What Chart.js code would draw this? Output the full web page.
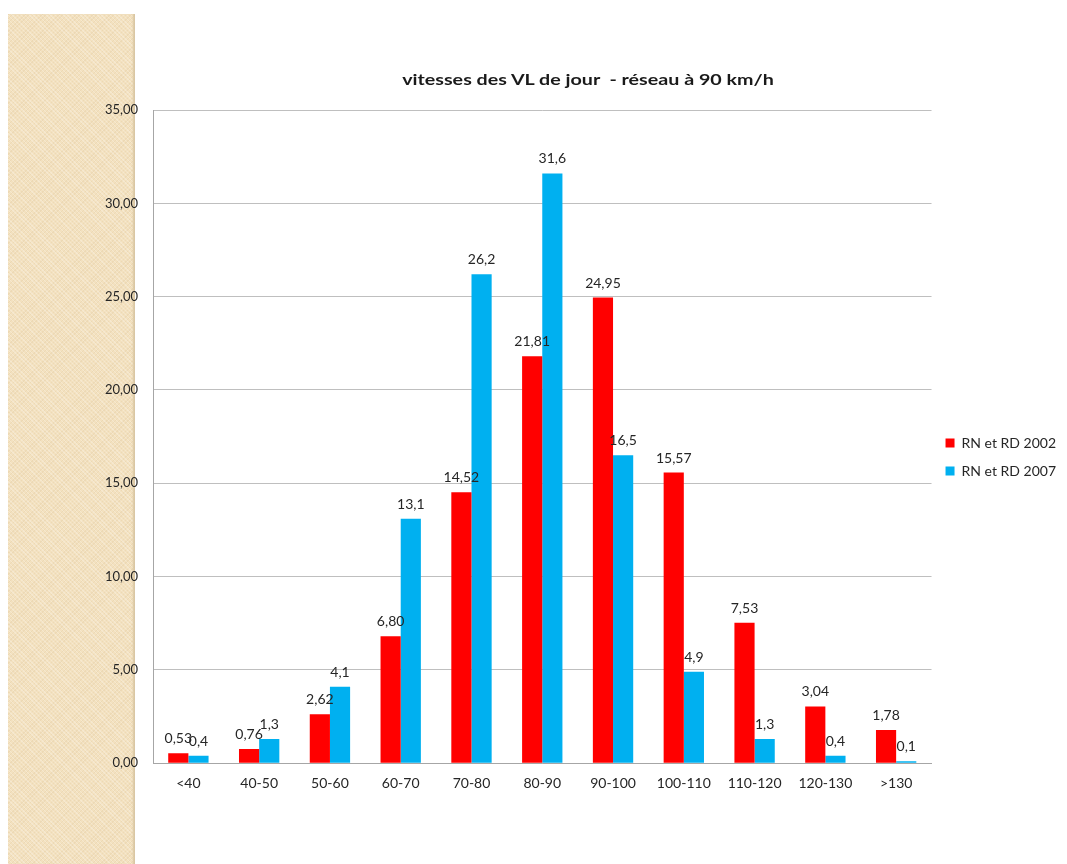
<!DOCTYPE html>
<html>
<head>
<meta charset="utf-8">
<script src="https://cdn.jsdelivr.net/npm/chart.js@4"></script>
<style>
  html, body { margin: 0; padding: 0; background: #fff; overflow: hidden; }
  #strip {
    position: absolute; left: 8px; top: 14px; width: 127px; height: 850px;
    background-color: #f3e1bf;
    background-image: repeating-linear-gradient(45deg, rgba(255,255,255,0.25) 0 1px, transparent 1px 3px),
                      repeating-linear-gradient(-45deg, rgba(200,170,120,0.15) 0 1px, transparent 1px 3px);
    box-shadow: inset -3px 0 2px -1px #d9c6a2;
  }
  #title {
    position: absolute; left: 388px; top: 70px; width: 400px; text-align: center;
    font: bold 15.5px Lato, sans-serif; color: #1a1a1a; white-space: nowrap;
    transform: scaleX(1.27); transform-origin: center;
  }
  #wrap { position: absolute; left: 0; top: 0; width: 1067px; height: 864px; }
</style>
</head>
<body>
<div id="strip"></div>
<div id="wrap"><canvas id="myChart" width="1067" height="864"></canvas></div>
<div id="title">vitesses des VL de jour&nbsp; - réseau à 90 km/h</div>
<script>
 //========= data
 var categories = ["<40", "40-50", "50-60", "60-70", "70-80", "80-90", "90-100", "100-110", "110-120", "120-130", ">130"];
 var values2002 = [0.53, 0.76, 2.62, 6.80, 14.52, 21.81, 24.95, 15.57, 7.53, 3.04, 1.78];
 var values2007 = [0.4, 1.3, 4.1, 13.1, 26.2, 31.6, 16.5, 4.9, 1.3, 0.4, 0.1];
 var decimals = [2, 1];
 var yTicks = [0, 5, 10, 15, 20, 25, 30, 35];

 function frNum(v, d) {
   return v.toFixed(d).replace(".", ",");
 }

 // value labels above each bar
 var barLabels = {
   id: "barLabels",
   afterDatasetsDraw: function(chart) {
     var c = chart.ctx;
     c.save();
     c.font = "14px Lato, sans-serif";
     c.fillStyle = "#262626";
     c.textAlign = "center";
     c.textBaseline = "alphabetic";
     chart.data.datasets.forEach(function(ds, i) {
       chart.getDatasetMeta(i).data.forEach(function(bar, j) {
         c.fillText(frNum(ds.data[j], decimals[i]), bar.x, bar.y - 10);
       });
     });
     c.restore();
   }
 };

 var ctx = document.getElementById("myChart").getContext("2d");
 var myChart = new Chart(ctx, {
   type: "bar",
   data: {
     labels: categories,
     datasets: [
       {
         label: "RN et RD 2002",
         data: values2002,
         backgroundColor: "#ff0000",
         borderWidth: 0,
       },
       {
         label: "RN et RD 2007",
         data: values2007,
         backgroundColor: "#00b0f0",
         borderWidth: 0,
       },
     ],
   },
   plugins: [barLabels],
   options: {
     responsive: false,
     animation: false,
     layout: {
       padding: { left: 100, right: 1, top: 110, bottom: 60 },
     },
     datasets: {
       bar: { categoryPercentage: 0.57, barPercentage: 1.0 },
     },
     plugins: {
       legend: {
         position: "right",
         labels: {
           boxWidth: 9,
           boxHeight: 9,
           padding: 14,
           color: "#262626",
           font: { family: "Lato, sans-serif", size: 14 },
         },
       },
       tooltip: { enabled: false },
     },
     scales: {
       x: {
         grid: { display: false, drawTicks: false },
         border: { color: "#a6a6a6" },
         ticks: { color: "#262626", padding: 12, font: { family: "Lato, sans-serif", size: 14 } },
       },
       y: {
         min: 0,
         max: 35,
         afterFit: function(scale) { scale.width = 53; },
         afterBuildTicks: function(scale) {
           scale.ticks = yTicks.map(function(v) { return { value: v }; });
         },
         grid: { color: "#bfbfbf", drawTicks: false },
         border: { color: "#a6a6a6" },
         ticks: {
           color: "#262626",
           padding: 15,
           font: { family: "Lato, sans-serif", size: 13 },
           callback: function(v) { return frNum(v, 2); },
         },
       },
     },
   },
 });
</script>
</body>
</html>
